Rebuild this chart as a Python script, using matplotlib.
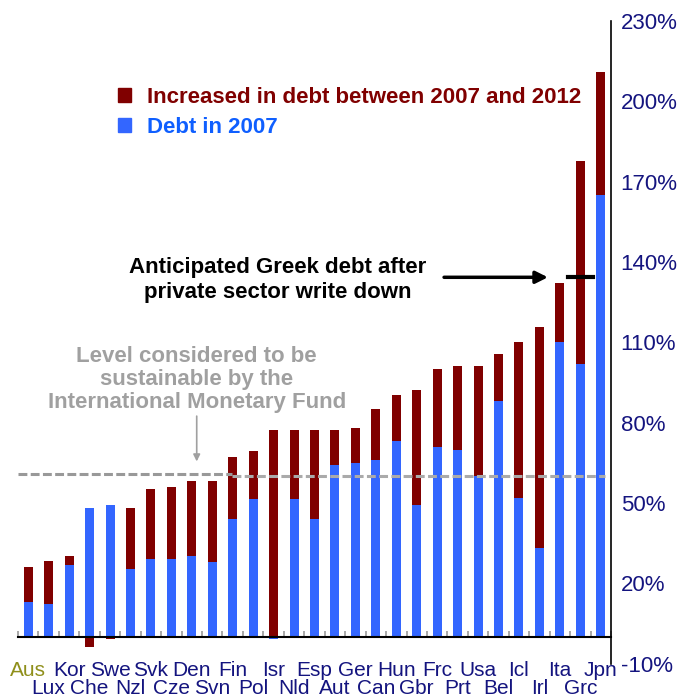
import numpy as np
import matplotlib
matplotlib.use('Agg')
import matplotlib.pyplot as plt
from matplotlib.patches import Patch
from matplotlib.transforms import blended_transform_factory

plt.rcParams['font.family'] = ['Liberation Sans', 'DejaVu Sans']

# 国家代码（按 2012 年债务排序）
countries = ['Aus', 'Lux', 'Kor', 'Che', 'Swe', 'Nzl', 'Svk', 'Cze', 'Den', 'Svn',
             'Fin', 'Pol', 'Isr', 'Nld', 'Esp', 'Aut', 'Ger', 'Can', 'Hun', 'Gbr',
             'Frc', 'Prt', 'Usa', 'Bel', 'Icl', 'Irl', 'Ita', 'Grc', 'Jpn']
# 2007 年债务 (% GDP)
debt_2007 = [13.1, 12.3, 26.9, 48.2, 49.3, 25.4, 29.2, 29.2, 30.3, 28.0,
             44.1, 51.6, -0.8, 51.6, 44.1, 64.3, 65.0, 66.2, 73.3, 49.3,
             71.0, 69.9, 60.2, 88.2, 52.0, 33.3, 110.3, 102.0, 165.2]
# 2007-2012 增加部分
increase = [13.1, 16.1, 3.4, -3.7, -0.8, 22.8, 26.1, 26.8, 28.0, 30.3,
            23.2, 17.9, 77.4, 25.8, 33.3, 13.1, 13.1, 19.0, 17.2, 43.0,
            29.2, 31.4, 41.1, 17.6, 58.3, 82.6, 22.0, 75.6, 45.6]
yticks = [-10, 20, 50, 80, 110, 140, 170, 200, 230]
imf_level = 60
greek_target = 134.3

RED = '#800000'
BLUE = '#3366FF'
NAVY = '#14147f'

fig = plt.figure(figsize=(6.79, 6.97), dpi=100)
ax = fig.add_axes((18 / 679, 1 - 663.75 / 697, (611 - 18) / 679, (663.75 - 21) / 697))

x = np.arange(len(countries))
d07 = np.array(debt_2007)
inc = np.array(increase)
# 正负分开堆叠（同 Excel）
red_bottom = np.where(np.sign(inc) == np.sign(d07), d07, 0)
ax.bar(x, d07, width=0.44, color=BLUE, zorder=2)
ax.bar(x, inc, bottom=red_bottom, width=0.44, color=RED, zorder=2)

ax.set_xlim(-0.5, len(countries) - 0.5)
ax.set_ylim(-10, 230)

# 坐标轴样式
for s in ['left', 'top']:
    ax.spines[s].set_visible(False)
ax.spines['bottom'].set_position(('data', 0))
ax.spines['bottom'].set_linewidth(1.5)
ax.spines['right'].set_linewidth(1.2)
ax.set_xticks(np.arange(-0.5, len(countries), 1.0))
ax.tick_params(axis='x', direction='in', length=4, color='#999999', width=1.2, labelbottom=False)
ax.yaxis.tick_right()
ax.set_yticks(yticks)
ax.set_yticklabels([f'{v}%' for v in yticks])
ax.tick_params(axis='y', length=0, pad=7, labelsize=16, labelcolor=NAVY)

# 国家标签，交错两行
tr = blended_transform_factory(ax.transData, fig.transFigure)
for i, c in enumerate(countries):
    yy = 1 - 670 / 697 if i % 2 == 0 else 1 - 688 / 697
    col = '#8f8f1a' if c == 'Aus' else NAVY
    ax.text(i, yy, c, transform=tr, ha='center', va='center', fontsize=15, color=col)

# IMF 可持续水平虚线
ax.plot([-0.5, 9.95], [imf_level + 0.9, imf_level + 0.9], color='#999999', lw=2.2,
        dashes=(2.9, 1.1), zorder=3)
ax.plot([9.95, 28.2], [imf_level, imf_level], color='#aaaaaa', lw=2.2,
        dashes=(2.9, 1.1), zorder=3)
ax.text(8.24, 96.0, 'Level considered to be\nsustainable by the\nInternational Monetary Fund',
        ha='center', va='center', fontsize=16, fontweight='bold', color='#a0a0a0',
        linespacing=1.13)
ax.annotate('', xy=(8.24, 64.5), xytext=(8.24, 83.5),
            arrowprops=dict(arrowstyle='-|>', color='#a0a0a0', lw=1.2, mutation_scale=10))

# 希腊预期债务
ax.text(12.2, 133.3, 'Anticipated Greek debt after\nprivate sector write down',
        ha='center', va='center', fontsize=16, fontweight='bold', color='black',
        linespacing=1.25)
ax.annotate('', xy=(25.55, greek_target), xytext=(20.2, greek_target),
            arrowprops=dict(arrowstyle='-|>', color='black', lw=2.5, mutation_scale=18))
ax.plot([26.4, 27.6], [greek_target, greek_target], color='black', lw=3, zorder=4)

# 图例
handles = [Patch(color=RED), Patch(color=BLUE)]
leg = fig.legend(handles, ['Increased in debt between 2007 and 2012', 'Debt in 2007'],
                 loc='upper left', bbox_to_anchor=(118 / 679, 1 - 87 / 697),
                 frameon=False, handlelength=0.6, handleheight=0.6, handletextpad=0.7,
                 labelspacing=0.4, borderpad=0, borderaxespad=0,
                 prop={'size': 16, 'weight': 'bold'})
leg.get_texts()[0].set_color(RED)
leg.get_texts()[1].set_color('#0f5fff')

fig.savefig('out.png', dpi=100)
